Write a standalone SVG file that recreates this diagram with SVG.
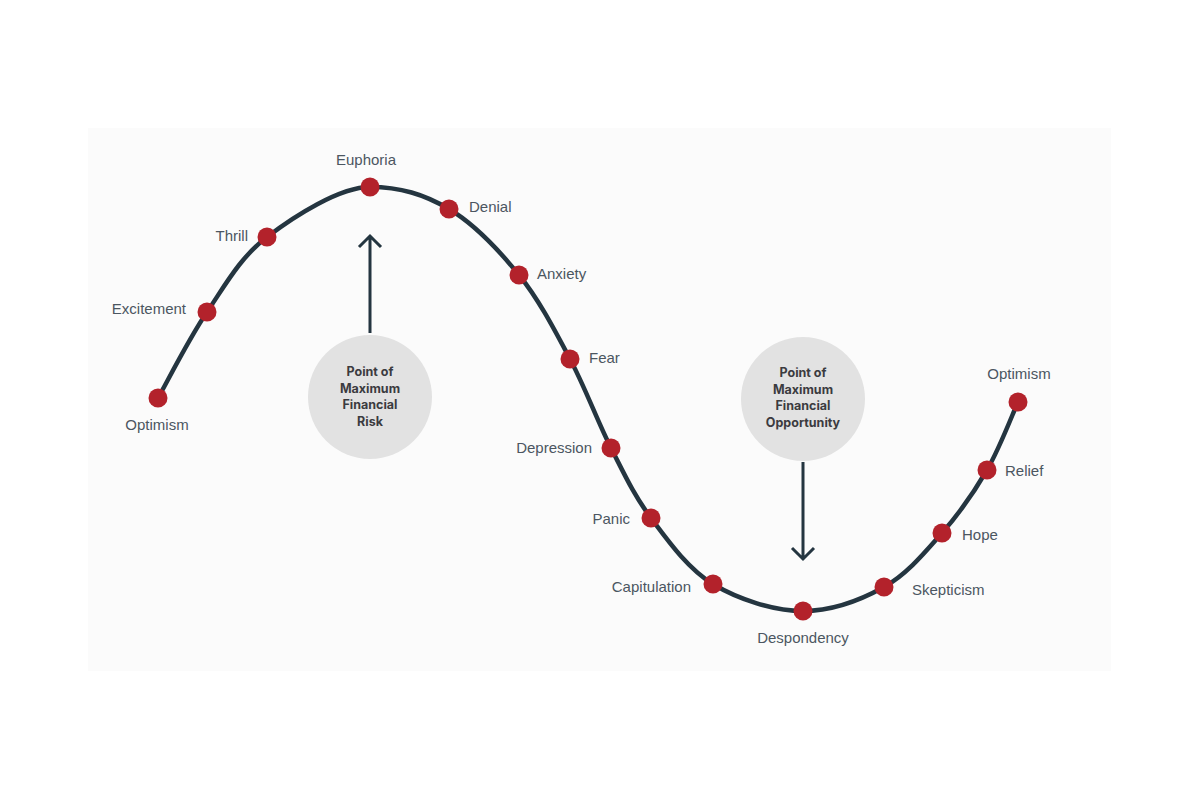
<svg xmlns="http://www.w3.org/2000/svg" width="1200" height="800" viewBox="0 0 1200 800">
<style>
.lbl{font-family:"Liberation Sans",Arial,sans-serif;font-size:15px;fill:#4b5661}
.ctr{text-anchor:middle}
.end{text-anchor:end}
.dot{fill:#b3222b}
.bub{fill:#e2e2e2}
.btxt{font-family:Inter,"Open Sans",sans-serif;font-weight:700;font-size:12.5px;fill:#3b3b3f;text-anchor:middle}
.conn{fill:none;stroke:#243540;stroke-width:3}
</style>
<rect x="0" y="0" width="1200" height="800" fill="#ffffff"/>
<rect x="88" y="128" width="1023" height="543" fill="#fbfbfb"/>
<g id="connectors">
<path id="curve" fill="none" stroke="#243540" stroke-width="4.5" stroke-linecap="round" d="M158,398 C166.2,383.7 188.8,338.8 207,312 C225.2,285.2 239.8,257.8 267,237 C294.2,216.2 339.7,187 370,187 C400.3,187 424.2,194.3 449,209 C473.8,223.7 498.8,250 519,275 C539.2,300 554.7,330.2 570,359 C585.3,387.8 597.5,421.5 611,448 C624.5,474.5 634,495.3 651,518 C668,540.7 687.7,568.5 713,584 C738.3,599.5 774.5,611 803,611 C831.5,611 860.8,600 884,587 C907.2,574 924.8,552.5 942,533 C959.2,513.5 974.3,491.8 987,470 C999.7,448.2 1012.8,413.3 1018,402"/>
<path class="conn" d="M370,333 V237 M359,247 L370,236 L381,247"/>
<path class="conn" d="M803,462 V559 M792,548 L803,559 L814,548"/>
</g>
<g id="n-optimism1"><circle class="dot" cx="158" cy="398" r="9.5"/><text class="lbl ctr" x="157" y="430">Optimism</text></g>
<g id="n-excitement"><circle class="dot" cx="207" cy="312" r="9.5"/><text class="lbl end" x="186" y="314">Excitement</text></g>
<g id="n-thrill"><circle class="dot" cx="267" cy="237" r="9.5"/><text class="lbl end" x="248" y="241">Thrill</text></g>
<g id="n-euphoria"><circle class="dot" cx="370" cy="187" r="9.5"/><text class="lbl ctr" x="366" y="165">Euphoria</text></g>
<g id="n-denial"><circle class="dot" cx="449" cy="209" r="9.5"/><text class="lbl" x="469" y="212">Denial</text></g>
<g id="n-anxiety"><circle class="dot" cx="519" cy="275" r="9.5"/><text class="lbl" x="537" y="279">Anxiety</text></g>
<g id="n-fear"><circle class="dot" cx="570" cy="359" r="9.5"/><text class="lbl" x="589" y="363">Fear</text></g>
<g id="n-depression"><circle class="dot" cx="611" cy="448" r="9.5"/><text class="lbl end" x="592" y="453">Depression</text></g>
<g id="n-panic"><circle class="dot" cx="651" cy="518" r="9.5"/><text class="lbl end" x="630" y="524">Panic</text></g>
<g id="n-capitulation"><circle class="dot" cx="713" cy="584" r="9.5"/><text class="lbl end" x="691" y="592">Capitulation</text></g>
<g id="n-despondency"><circle class="dot" cx="803" cy="611" r="9.5"/><text class="lbl ctr" x="803" y="643">Despondency</text></g>
<g id="n-skepticism"><circle class="dot" cx="884" cy="587" r="9.5"/><text class="lbl" x="912" y="595">Skepticism</text></g>
<g id="n-hope"><circle class="dot" cx="942" cy="533" r="9.5"/><text class="lbl" x="962" y="540">Hope</text></g>
<g id="n-relief"><circle class="dot" cx="987" cy="470" r="9.5"/><text class="lbl" x="1005" y="476">Relief</text></g>
<g id="n-optimism2"><circle class="dot" cx="1018" cy="402" r="9.5"/><text class="lbl ctr" x="1019" y="379">Optimism</text></g>
<g id="n-risk"><circle class="bub" cx="370" cy="397" r="62"/>
<text class="btxt" x="370" y="376">Point of</text>
<text class="btxt" x="370" y="393">Maximum</text>
<text class="btxt" x="370" y="409">Financial</text>
<text class="btxt" x="370" y="426">Risk</text></g>
<g id="n-opportunity"><circle class="bub" cx="803" cy="399" r="62"/>
<text class="btxt" x="803" y="377">Point of</text>
<text class="btxt" x="803" y="394">Maximum</text>
<text class="btxt" x="803" y="410">Financial</text>
<text class="btxt" x="803" y="427">Opportunity</text></g>
</svg>
